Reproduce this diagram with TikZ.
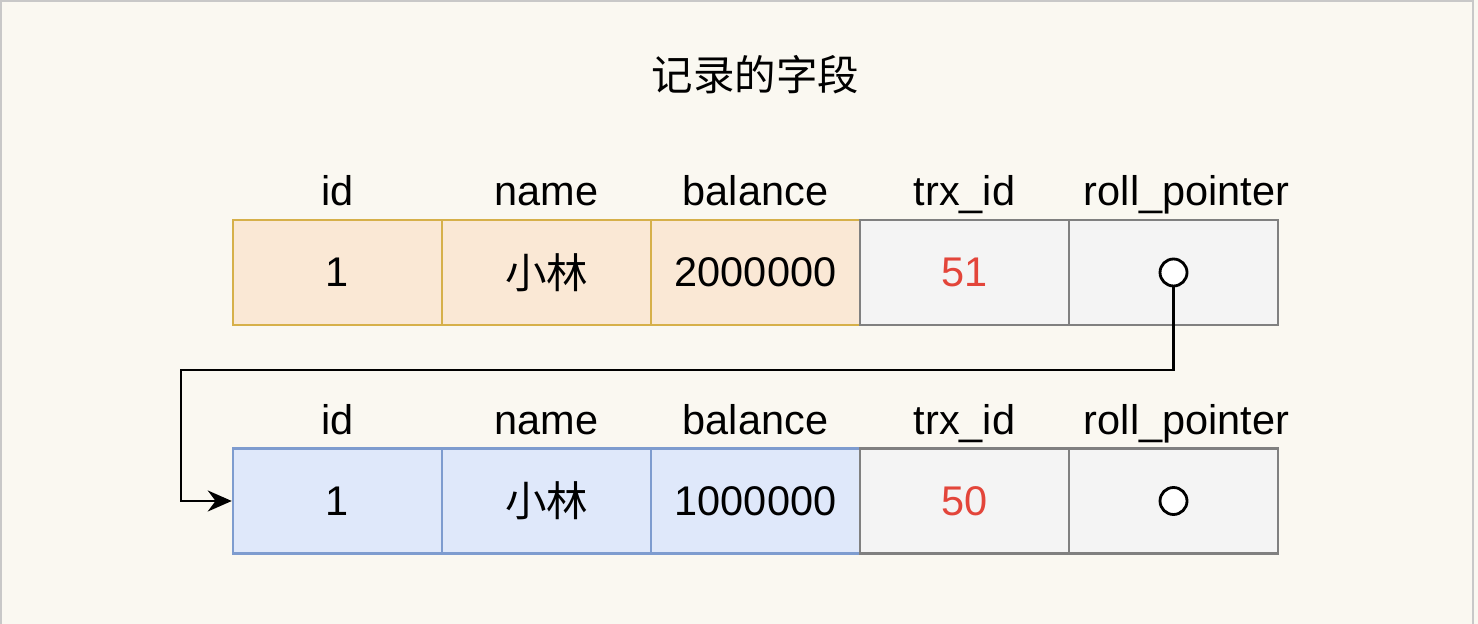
\documentclass[tikz,border=0pt]{standalone}
\usepackage{fontspec}
\setmainfont{Liberation Sans}
\newfontfamily\cjk{Noto Sans CJK SC}
\usepackage{tikz}
\usetikzlibrary{arrows.meta,positioning}

\definecolor{paper}{HTML}{FAF8F1}
\definecolor{frameline}{HTML}{C8C8C8}
\definecolor{oldfill}{HTML}{FAE8D5}
\definecolor{olddraw}{HTML}{D6B04A}
\definecolor{newfill}{HTML}{DFE8FA}
\definecolor{newdraw}{HTML}{7E9CCF}
\definecolor{hidfill}{HTML}{F4F4F4}
\definecolor{hiddraw}{HTML}{808080}
\definecolor{trxred}{HTML}{E3453A}

\begin{document}
\begin{tikzpicture}[>={Stealth[length=2.4mm,width=2.1mm]}, node distance=2.09cm,
    font=\fontsize{11.8}{14}\selectfont]
        \tikzstyle{cell}=[rectangle,draw,line width=0.7pt,minimum width=2.09cm,minimum height=1.05cm,inner sep=0pt]
        \tikzstyle{oldcell}=[cell,fill=oldfill,draw=olddraw]
        \tikzstyle{newcell}=[cell,fill=newfill,draw=newdraw]
        \tikzstyle{hidcell}=[cell,fill=hidfill,draw=hiddraw]
        \tikzstyle{head}=[text height=0.3cm,text depth=0.08cm,inner sep=0pt]
        \tikzstyle{ptr}=[circle,draw,fill=white,line width=0.8pt,minimum size=0.27cm,inner sep=0pt]

        % page
        \fill[paper] (0,0) rectangle (14.78,6.24);
        \useasboundingbox (0,0) rectangle (14.78,6.24);
        \draw[frameline,line width=0.6pt] (0.01,0) -- (0.01,6.23) -- (14.73,6.23) -- (14.73,0);

        % record after the update
        \node[oldcell]  (a1) at (3.375,3.515)  {1};
        \node[oldcell]  (a2) [right of=a1]     {\cjk 小林};
        \node[oldcell]  (a3) [right of=a2]     {2000000};
        \node[hidcell]  (a4) [right of=a3]     {\textcolor{trxred}{51}};
        \node[hidcell]  (a5) [right of=a4]     {};

        % old version in the undo log
        \node[newcell]  (b1) [below of=a1, node distance=2.285cm] {1};
        \node[newcell]  (b2) [right of=b1]     {\cjk 小林};
        \node[newcell]  (b3) [right of=b2]     {1000000};
        \node[hidcell]  (b4) [right of=b3]     {\textcolor{trxred}{50}};
        \node[hidcell]  (b5) [right of=b4]     {};

        % column names
        \foreach \row in {a,b}{
            \node[head] (\row h1) [above of=\row1, node distance=0.775cm] {id};
            \node[head] (\row h2) [above of=\row2, node distance=0.775cm] {name};
            \node[head] (\row h3) [above of=\row3, node distance=0.775cm] {balance};
            \node[head] (\row h4) [above of=\row4, node distance=0.775cm] {trx\_id};
            \node[head] (\row h5) [above of=\row5, node distance=0.775cm, xshift=0.13cm] {roll\_pointer};
        }

        \node (title) [above of=a3, node distance=1.975cm] {\cjk 记录的字段};

        % roll pointers
        \node[ptr] (p1) at (a5) {};
        \node[ptr] (p2) at (b5) {};
        \coordinate (turn) at (1.81,2.54);

        \draw[->,line width=0.8pt] (p1.south) |- (turn) |- (b1.west);
\end{tikzpicture}
\end{document}
